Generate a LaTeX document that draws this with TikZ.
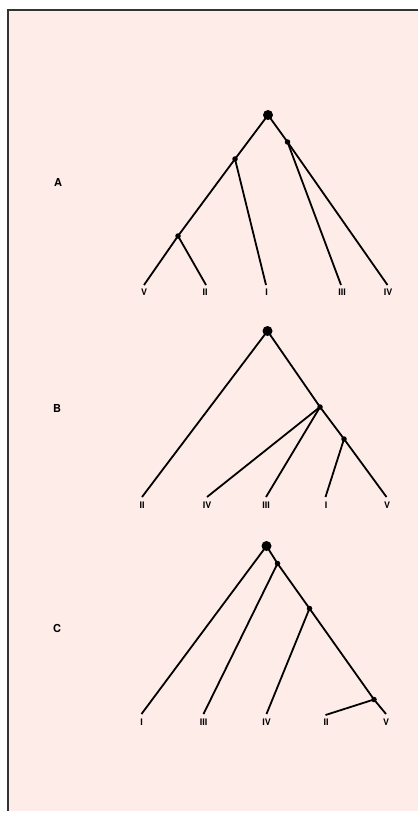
\documentclass[tikz,border=0pt]{standalone}
\usepackage{fontspec}
\setmainfont{TeX Gyre Heros}
\definecolor{bgpink}{HTML}{FDECE8}
\definecolor{framegray}{HTML}{333333}
\tikzset{
  branch/.style={line width=1.8pt, black},
  rootdot/.style={circle, fill=black, inner sep=0pt, minimum size=10pt},
  innerdot/.style={circle, fill=black, inner sep=0pt, minimum size=5.5pt},
  leaflabel/.style={font=\bfseries\fontsize{9}{10}\selectfont, inner sep=0pt},
  panellabel/.style={font=\bfseries\fontsize{11}{13}\selectfont, inner sep=0pt}
}
\begin{document}
\begin{tikzpicture}[x=1pt,y=-1pt]
\useasboundingbox (0,0) rectangle (418,818);
\fill[white] (0,0) rectangle (418,818);
\fill[bgpink] (8,10) rectangle (418,811);
\draw[framegray, line width=2pt] (8,811) -- (8,10) -- (418,10);

% ---------- Panel A ----------
\node[panellabel] (labA) at (58,182) {A};
\node[rootdot] (Ar) at (268,115) {};
\node[innerdot] (Ab) at (287.5,142) {};
\node[innerdot] (Aa) at (235,159) {};
\node[innerdot] (Ac) at (178,236) {};
\coordinate (AV) at (144,285);
\coordinate (AII) at (206,285);
\coordinate (AI) at (266,285);
\coordinate (AIII) at (341,285);
\coordinate (AIV) at (387.5,285);
\draw[branch] (Ar.center) -- (Aa.center) -- (Ac.center) -- (AV);
\draw[branch] (Ac.center) -- (AII);
\draw[branch] (Aa.center) -- (AI);
\draw[branch] (Ar.center) -- (Ab.center) -- (AIV);
\draw[branch] (Ab.center) -- (AIII);
\node[leaflabel] (tAV) at (144,292) {V};
\node[leaflabel] (tAII) at (205,292) {II};
\node[leaflabel] (tAI) at (266.5,292) {I};
\node[leaflabel] (tAIII) at (342,292) {III};
\node[leaflabel] (tAIV) at (388,292) {IV};

% ---------- Panel B ----------
\node[panellabel] (labB) at (57,408) {B};
\node[rootdot] (Br) at (267.5,331) {};
\node[innerdot] (Ba) at (320,407) {};
\node[innerdot] (Bb) at (344,439) {};
\coordinate (BII) at (142,497);
\coordinate (BIV) at (207,497);
\coordinate (BIII) at (266,497);
\coordinate (BI) at (325.5,497);
\coordinate (BV) at (386.5,497);
\draw[branch] (Br.center) -- (BII);
\draw[branch] (Br.center) -- (Ba.center) -- (Bb.center) -- (BV);
\draw[branch] (Ba.center) -- (BIV);
\draw[branch] (Ba.center) -- (BIII);
\draw[branch] (Bb.center) -- (BI);
\node[leaflabel] (tBII) at (142,505) {II};
\node[leaflabel] (tBIV) at (207,505) {IV};
\node[leaflabel] (tBIII) at (266,505) {III};
\node[leaflabel] (tBI) at (326,505) {I};
\node[leaflabel] (tBV) at (387,505) {V};

% ---------- Panel C ----------
\node[panellabel] (labC) at (57,628) {C};
\node[rootdot] (Cr) at (266.5,546) {};
\node[innerdot] (Ca) at (277.5,563.5) {};
\node[innerdot] (Cb) at (309.5,608.5) {};
\node[innerdot] (Cc) at (374,699.5) {};
\coordinate (CI) at (141.5,714);
\coordinate (CIII) at (203.5,714);
\coordinate (CIV) at (266.5,714);
\coordinate (CII) at (325.5,715);
\coordinate (CV) at (386,714);
\draw[branch] (Cr.center) -- (CI);
\draw[branch] (Cr.center) -- (Ca.center) -- (Cb.center) -- (Cc.center) -- (CV);
\draw[branch] (Ca.center) -- (CIII);
\draw[branch] (Cb.center) -- (CIV);
\draw[branch] (Cc.center) -- (CII);
\node[leaflabel] (tCI) at (141.5,722) {I};
\node[leaflabel] (tCIII) at (203.5,722) {III};
\node[leaflabel] (tCIV) at (266.5,722) {IV};
\node[leaflabel] (tCII) at (326,722) {II};
\node[leaflabel] (tCV) at (386,722) {V};
\end{tikzpicture}
\end{document}
